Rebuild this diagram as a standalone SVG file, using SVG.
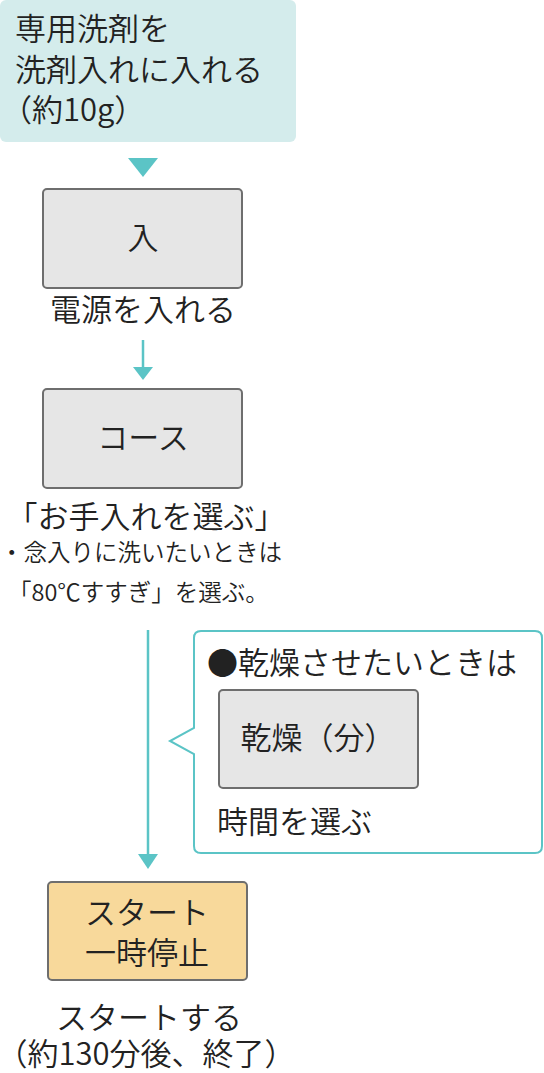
<svg xmlns="http://www.w3.org/2000/svg" width="544" height="1073" viewBox="0 0 544 1073">
<defs>
<style>
text{font-family:"Noto Sans CJK JP","Noto Sans",sans-serif;fill:#222;font-weight:350;}
.big{font-size:31px;}
.sm{font-size:23.5px;}
.key{fill:#e6e6e6;stroke:#6e6e6e;stroke-width:2;}
.conn{stroke:#5bc4c6;stroke-width:2.5;fill:none;}
.head{fill:#5bc4c6;}
</style>
</defs>
<rect width="544" height="1073" fill="#fff"/>
<g id="detergent">
<rect x="0" y="0" width="296" height="142" rx="6" fill="#d4ecec"/>
<text class="big" x="15" y="40">専用洗剤を</text>
<text class="big" x="15" y="81">洗剤入れに入れる</text>
<text class="big" x="1" y="121">（約10g）</text>
</g>
<g id="connectors">
<polygon class="head" points="128,158 158,158 143,177"/>
<line class="conn" x1="143" y1="340" x2="143" y2="370"/>
<polygon class="head" points="133,367 153,367 143,380"/>
<line class="conn" x1="148" y1="630" x2="148" y2="858"/>
<polygon class="head" points="138,854 158,854 148,869"/>
</g>
<g id="power">
<rect class="key" x="43" y="189" width="199" height="99" rx="4"/>
<text class="big" x="143" y="249" text-anchor="middle">入</text>
<text class="big" x="143" y="321" text-anchor="middle">電源を入れる</text>
</g>
<g id="course">
<rect class="key" x="43" y="389" width="199" height="99" rx="4"/>
<text class="big" x="143" y="449" text-anchor="middle">コース</text>
<text class="big" x="146" y="528" text-anchor="middle">「お手入れを選ぶ」</text>
<text class="sm" x="0" y="561">・念入りに洗いたいときは</text>
<text class="sm" x="8" y="601">「80℃すすぎ」を選ぶ。</text>
</g>
<g id="dry-callout">
<path d="M201,631 H535 Q542,631 542,638 V846 Q542,853 535,853 H201 Q194,853 194,846 V754 L170,741 L194,728 V638 Q194,631 201,631 Z" fill="#fff" stroke="#5bc4c6" stroke-width="2"/>
<text class="big" x="207" y="674">●乾燥させたいときは</text>
<rect class="key" x="219" y="690" width="199" height="98" rx="4"/>
<text class="big" x="318" y="749" text-anchor="middle">乾燥（分）</text>
<text class="big" x="217" y="833">時間を選ぶ</text>
</g>
<g id="start">
<rect x="48" y="882" width="199" height="98" rx="4" fill="#f8d99b" stroke="#6e6e6e" stroke-width="2"/>
<text class="big" x="147" y="924" text-anchor="middle">スタート</text>
<text class="big" x="147" y="964" text-anchor="middle">一時停止</text>
<text class="big" x="149" y="1029" text-anchor="middle">スタートする</text>
<text class="big" x="146" y="1065" text-anchor="middle">（約130分後、終了）</text>
</g>
</svg>
